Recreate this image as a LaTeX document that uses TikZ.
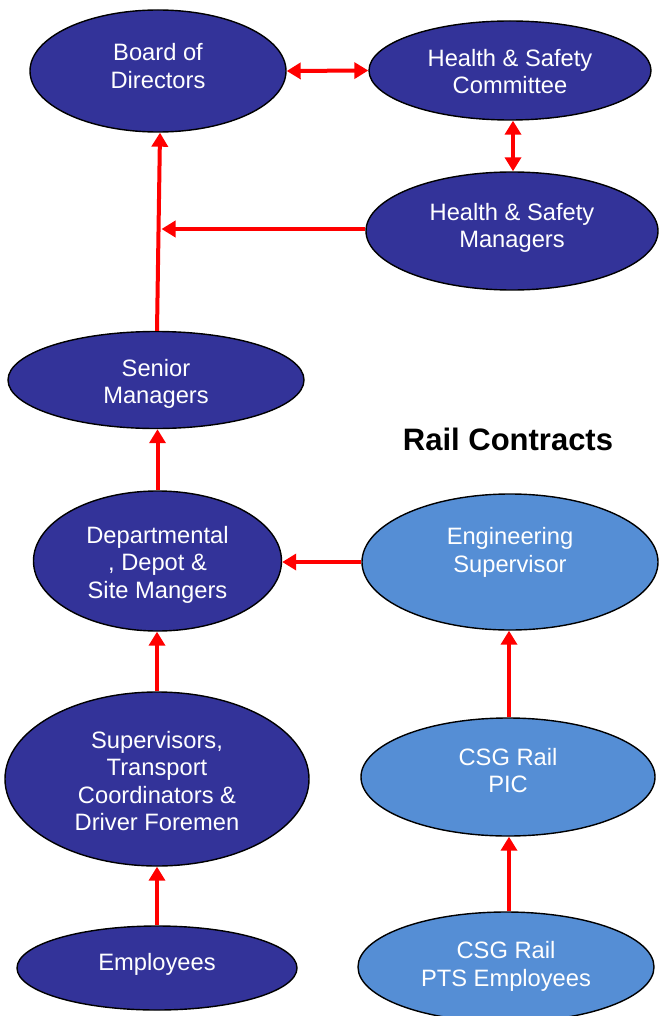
\documentclass[tikz,border=0pt]{standalone}
\usepackage{fontspec}
\setmainfont{Liberation Sans}
\usetikzlibrary{shapes.geometric,arrows.meta}
\definecolor{dkblue}{RGB}{51,51,153}
\definecolor{ltblue}{RGB}{85,142,213}
\begin{document}
\begin{tikzpicture}[x=1pt,y=-1pt,
  ell/.style={ellipse,draw=black,line width=1.4pt,inner sep=0pt},
  dk/.style={ell,fill=dkblue},
  lt/.style={ell,fill=ltblue},
  lbl/.style={text=white,font=\fontsize{23.7}{27.5}\selectfont,align=center,inner sep=0pt},
  con/.style={draw=red,line width=4pt,-{Triangle[length=14pt,width=16pt]}},
  dcon/.style={draw=red,line width=4pt,{Triangle[length=14pt,width=16pt]}-{Triangle[length=14pt,width=16pt]}}]
\useasboundingbox (0,0) rectangle (659,1016);

% ellipses
\node[dk,minimum width=256pt,minimum height=122pt] (board) at (158,71) {};
\node[dk,minimum width=282pt,minimum height=99pt] (committee) at (510,70.5) {};
\node[dk,minimum width=292pt,minimum height=118pt] (hsm) at (512,231) {};
\node[dk,minimum width=296pt,minimum height=97pt] (senior) at (156,380) {};
\node[dk,minimum width=248pt,minimum height=140pt] (dept) at (157.5,561) {};
\node[lt,minimum width=296pt,minimum height=136pt] (eng) at (510,562) {};
\node[dk,minimum width=304pt,minimum height=174pt] (sup) at (157,779) {};
\node[dk,minimum width=280pt,minimum height=84pt] (emp) at (157,968) {};
\node[lt,minimum width=294pt,minimum height=118pt] (pic) at (508,777) {};
\node[lt,minimum width=296pt,minimum height=110pt] (pts) at (506,967) {};

% labels
\node[lbl] (boardT) at (158,66) {Board of\\Directors};
\node[lbl] (committeeT) at (510,71.5) {Health \& Safety\\Committee};
\node[lbl] (hsmT) at (512,228) {Health \& Safety\\Managers};
\node[lbl] (seniorT) at (156,384) {Senior\\Managers};
\node[lbl] (deptT) at (157.5,564.5) {Departmental\\, Depot \&\\Site Mangers};
\node[lbl] (engT) at (510,552.5) {Engineering\\Supervisor};
\node[lbl] (supT) at (157,781) {Supervisors,\\Transport\\Coordinators \&\\Driver Foremen};
\node[lbl] (empT) at (157,964) {Employees};
\node[lbl] (picT) at (508,770.5) {CSG Rail\\PIC};
\node[lbl] (ptsT) at (506,966.5) {CSG Rail\\PTS Employees};

\node[font=\bfseries\fontsize{31}{36}\selectfont,inner sep=0pt] (rail) at (508,439) {Rail Contracts};

% connectors
\coordinate (j) at (161.5,229);
\draw[dcon] (board.east) -- (committee.west);
\draw[dcon] ([xshift=3pt]committee.south) -- ([xshift=1pt]hsm.north);
\draw[con] (hsm.west |- j) -- (j);
\draw[con] ([xshift=1pt]senior.north) -- ([xshift=2pt]board.south);
\draw[con] (dept.north) -- (dept.north |- senior.south);
\draw[con] (sup.north) -- (sup.north |- dept.south);
\draw[con] (emp.north) -- (emp.north |- sup.south);
\draw[con] (eng.west) -- (eng.west -| dept.east);
\draw[con] ([xshift=1pt]pic.north) -- ([xshift=1pt]pic.north |- eng.south);
\draw[con] ([xshift=3pt]pts.north) -- ([xshift=3pt]pts.north |- pic.south);
\end{tikzpicture}
\end{document}
